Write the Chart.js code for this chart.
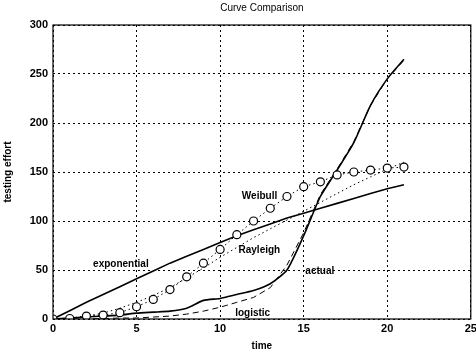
<!DOCTYPE html>
<html>
<head>
<meta charset="utf-8">
<script src="https://cdn.jsdelivr.net/npm/chart.js@4"></script>
<style>
  html, body { margin: 0; padding: 0; background: #fff; }
  #wrap { width: 476px; height: 352px; }
</style>
</head>
<body>
<div id="wrap"><canvas id="chart" width="476" height="352"></canvas></div>
<script>
const time = [0, 1, 2, 3, 4, 5, 6, 7, 8, 9, 10, 11, 12, 13, 14, 15, 16, 17, 18, 19, 20, 21];
const actual = [0, 1, 2, 3, 4, 6, 7, 8, 11, 19, 21, 25, 29, 36, 50, 85, 125, 152, 180, 218, 245, 265];
const exponential = [0, 8.5, 17, 25, 33, 41, 49, 57, 64, 71, 78, 85, 91, 97, 103, 108, 113, 118, 123, 128, 133, 137];
const weibull = [0, 0.5, 3, 4, 6.5, 12.5, 20, 30, 43, 57, 71, 86, 100, 113, 125, 135, 140, 147, 150, 152, 154, 155];
const rayleigh = [0, 1, 3, 6, 11, 17, 24, 32, 42, 52, 63, 73, 83, 92, 101, 110, 119, 128, 137, 145, 153, 160];
const logistic = [0, 0, 0, 0.5, 1, 1, 2, 3, 5, 8, 12, 17, 22, 32, 55, 88, 127, 153, 181, 218, 245, 264];

// curve names written on the plot, with the data point where each starts
const curveNames = ["exponential", "Weibull", "Rayleigh", "actual", "logistic"];
const nameX = [2.4, 11.3, 11.1, 15.1, 10.9];
const nameY = [56, 125, 70, 49, 6];
const chartTitle = "Curve Comparison";

const font = "Liberation Sans, Arial, sans-serif";

function points(values) {
  return values.map((v, i) => ({ x: time[i], y: v }));
}

// box round the plot area, title over it and the curve names
const framePlugin = {
  id: "frame",
  afterDatasetsDraw(chart) {
    const ctx = chart.ctx;
    const a = chart.chartArea;
    const xs = chart.scales.x;
    const ys = chart.scales.y;
    ctx.save();
    ctx.strokeStyle = "#000";
    ctx.lineWidth = 1.2;
    ctx.strokeRect(a.left, a.top, a.right - a.left, a.bottom - a.top);
    ctx.fillStyle = "#000";
    ctx.font = "10px " + font;
    ctx.textAlign = "center";
    ctx.textBaseline = "middle";
    ctx.fillText(chartTitle, (a.left + a.right) / 2, 8);
    ctx.font = "bold 10px " + font;
    ctx.textAlign = "left";
    for (let i = 0; i < curveNames.length; i++) {
      ctx.fillText(curveNames[i], xs.getPixelForValue(nameX[i]), ys.getPixelForValue(nameY[i]));
    }
    ctx.restore();
  },
};

const config = {
  type: "line",
  data: {
    datasets: [
      {
        label: "Weibull",
        data: points(weibull),
        borderColor: "#000",
        borderWidth: 1,
        borderDash: [1.5, 3],
        pointRadius: 4,
        pointBackgroundColor: "#fff",
        pointBorderColor: "#000",
        pointBorderWidth: 1.2,
        tension: 0,
      },
      {
        label: "Rayleigh",
        data: points(rayleigh),
        borderColor: "#000",
        borderWidth: 1,
        borderDash: [1.5, 3],
        pointRadius: 0,
        tension: 0,
      },
      {
        label: "logistic",
        data: points(logistic),
        borderColor: "#000",
        borderWidth: 1,
        borderDash: [6, 4],
        pointRadius: 0,
        tension: 0,
      },
      {
        label: "exponential",
        data: points(exponential),
        borderColor: "#000",
        borderWidth: 1.6,
        pointRadius: 0,
        tension: 0,
      },
      {
        label: "actual",
        data: points(actual),
        borderColor: "#000",
        borderWidth: 1.6,
        pointRadius: 0,
        tension: 0.2,
      },
    ],
  },
  options: {
    responsive: false,
    animation: false,
    layout: { padding: { right: 4, left: 0, top: 25, bottom: 0 } },
    plugins: {
      legend: { display: false },
      tooltip: { enabled: false },
      title: { display: false },
    },
    scales: {
      x: {
        type: "linear",
        min: 0,
        max: 25,
        ticks: { stepSize: 5, color: "#000", font: { family: font, size: 11, weight: "bold" }, padding: 3 },
        grid: { color: "#000", lineWidth: 1, drawTicks: false },
        border: { display: false, dash: [2, 3] },
        title: { display: true, text: "time", color: "#000", font: { family: font, size: 10, weight: "bold" }, padding: { top: 2, bottom: 0 } },
        afterFit(scale) {
          scale.height = 33;
          scale.paddingRight = 0;
        },
      },
      y: {
        min: 0,
        max: 300,
        ticks: { stepSize: 50, color: "#000", font: { family: font, size: 11, weight: "bold" }, padding: 5 },
        grid: { color: "#000", lineWidth: 1, drawTicks: false },
        border: { display: false, dash: [2, 3] },
        title: { display: true, text: "testing effort", color: "#000", font: { family: font, size: 10, weight: "bold" }, padding: { top: 2, bottom: 2 } },
        afterFit(scale) {
          scale.width = 53;
          scale.paddingTop = 0;
        },
      },
    },
  },
  plugins: [framePlugin],
};

new Chart(document.getElementById("chart"), config);
</script>
</body>
</html>
